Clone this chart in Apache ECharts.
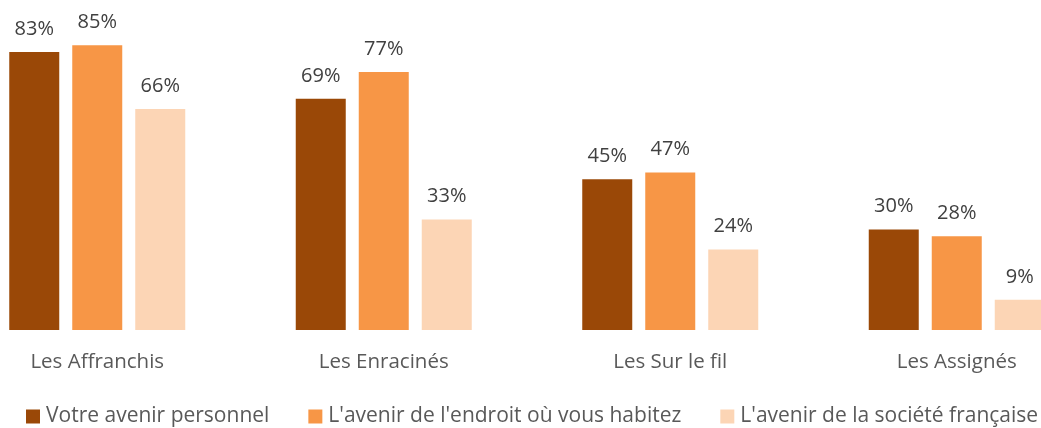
<!DOCTYPE html>
<html>
<head>
<meta charset="utf-8">
<script src="https://cdn.jsdelivr.net/npm/echarts@6/dist/echarts.min.js"></script>
<style>
  html, body { margin: 0; padding: 0; background: #fff; }
  #chart { width: 1041px; height: 428px; }
</style>
</head>
<body>
<div id="chart"></div>
<script>
const categories = ['Les Affranchis', 'Les Enracinés', 'Les Sur le fil', 'Les Assignés'];
const seriesNames = [
  'Votre avenir personnel',
  "L'avenir de l'endroit où vous habitez",
  "L'avenir de la société française"
];
const personnel = [83, 69, 45, 30];
const endroit = [85, 77, 47, 28];
const societe = [66, 33, 24, 9];
const colors = ['#9A4807', '#F79646', '#FCD5B5'];

const chart = echarts.init(document.getElementById('chart'));

const makeSeries = (name, data, color) => ({
  name: name,
  type: 'bar',
  data: data,
  barWidth: 50,
  barGap: '26%',
  itemStyle: {
    color: color
  },
  label: {
    show: true,
    position: 'top',
    distance: 13,
    formatter: '{c}%',
    fontFamily: 'Open Sans',
    fontSize: 20,
    color: '#404040'
  }
});

chart.setOption({
  animation: false,
  color: colors,
  grid: {
    left: -46,
    width: 1146,
    top: -5,
    bottom: 98,
    containLabel: false,
    outerBoundsMode: 'none'
  },
  legend: {
    left: 26,
    top: 406,
    width: 1040,
    padding: 0,
    itemWidth: 14,
    itemHeight: 14,
    itemGap: 39,
    icon: 'rect',
    textStyle: {
      fontFamily: 'Open Sans',
      fontSize: 21,
      color: '#595959',
      padding: [0, 0, 0, 1]
    },
    data: seriesNames
  },
  xAxis: {
    type: 'category',
    data: categories,
    axisLine: { show: false },
    axisTick: { show: false },
    axisLabel: {
      margin: 22,
      fontFamily: 'Open Sans',
      fontSize: 20.5,
      color: '#595959'
    }
  },
  yAxis: {
    type: 'value',
    min: 0,
    max: 100,
    show: false,
    splitLine: { show: false }
  },
  series: [
    makeSeries(seriesNames[0], personnel, colors[0]),
    makeSeries(seriesNames[1], endroit, colors[1]),
    makeSeries(seriesNames[2], societe, colors[2])
  ]
});
</script>
</body>
</html>
